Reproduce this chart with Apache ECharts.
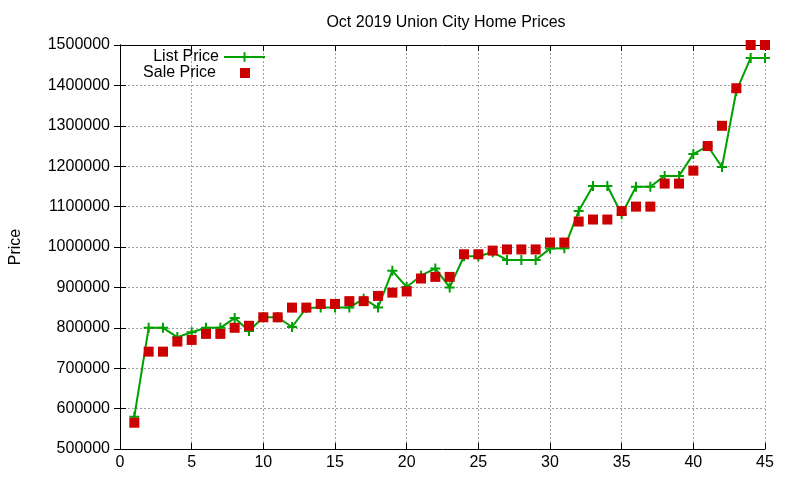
<!DOCTYPE html>
<html>
<head>
<meta charset="utf-8">
<script src="https://cdn.jsdelivr.net/npm/echarts@6/dist/echarts.min.js"></script>
<style>
  html, body { margin: 0; padding: 0; background: #fff; }
  #chart { width: 800px; height: 480px; }
</style>
</head>
<body>
<div id="chart"></div>
<script>
// home index (1..45) and prices
var homeIndex = [1, 2, 3, 4, 5, 6, 7, 8, 9, 10, 11, 12, 13, 14, 15, 16, 17, 18, 19, 20,
  21, 22, 23, 24, 25, 26, 27, 28, 29, 30, 31, 32, 33, 34, 35, 36, 37, 38, 39, 40,
  41, 42, 43, 44, 45]
var listPrice = [580000, 800000, 800000, 777000, 789000, 800000, 800000, 824000, 792000, 826000,
  826000, 802000, 849000, 850000, 850000, 850000, 872000, 850000, 941000, 901000,
  929000, 947000, 900000, 977000, 977000, 987000, 968000, 968000, 968000, 996000,
  997000, 1089000, 1151000, 1151000, 1081000, 1149000, 1149000, 1176000, 1176000, 1230000,
  1250000, 1198000, 1386000, 1468000, 1468000]
var salePrice = [565000, 741000, 741000, 766000, 770000, 785000, 785000, 800000, 805000, 826000,
  826000, 850000, 850000, 859000, 859000, 866000, 866000, 879000, 887000, 890000,
  922000, 926000, 926000, 982000, 982000, 991000, 994000, 994000, 994000, 1011000,
  1011000, 1063000, 1068000, 1068000, 1089000, 1100000, 1100000, 1157000, 1157000, 1189000,
  1250000, 1300000, 1393000, 1500000, 1500000]

var FONT = 'Liberation Sans'
var GREEN = '#00a000'
var RED = '#cc0000'
var crossIcon = 'path://M4,0H6V4H10V6H6V10H4V6H0V4H4Z'

function pairs(xs, ys) {
  return xs.map(function (x, i) { return [x, ys[i]] })
}

var gridLine = { show: true, lineStyle: { color: '#a0a0a0', type: [2, 2], width: 1 } }
var frameLine = { show: true, lineStyle: { color: '#000', width: 1 } }
var labelStyle = { color: '#000', fontFamily: FONT, fontSize: 16 }
var innerTick = { show: true, inside: true, length: 6, lineStyle: { color: '#000' } }

var chart = echarts.init(document.getElementById('chart'), null, { renderer: 'canvas' })
chart.setOption({
  animation: false,
  backgroundColor: '#fff',
  title: {
    text: 'Oct 2019 Union City Home Prices',
    left: 441, textAlign: 'center', top: 10,
    textStyle: { color: '#000', fontFamily: FONT, fontSize: 16, fontWeight: 'normal' }
  },
  legend: [{
    data: ['List Price'], orient: 'vertical', align: 'right',
    right: 534, top: 49, padding: 0,
    itemWidth: 41, itemHeight: 12,
    textStyle: labelStyle
  }, {
    data: ['Sale Price'], orient: 'vertical', align: 'right',
    right: 550, top: 65, padding: 0,
    itemWidth: 10, itemHeight: 10,
    textStyle: Object.assign({ padding: [0, 19, 0, 0] }, labelStyle)
  }],
  grid: { left: 118, right: 35, top: 45, bottom: 31, containLabel: false },
  xAxis: [{
    type: 'value', min: 0, max: 45, interval: 5,
    axisLine: frameLine, axisTick: innerTick,
    axisLabel: Object.assign({ margin: 6 }, labelStyle),
    splitLine: gridLine
  }, {
    type: 'value', position: 'top', min: 0, max: 45, interval: 5,
    axisLine: frameLine, axisTick: innerTick,
    axisLabel: { show: false }, splitLine: { show: false }
  }],
  yAxis: [{
    type: 'value', min: 500000, max: 1500000, interval: 100000,
    name: 'Price', nameLocation: 'middle', nameGap: 96, nameRotate: 90,
    nameTextStyle: labelStyle,
    axisLine: frameLine, axisTick: innerTick,
    axisLabel: Object.assign({ margin: 10, formatter: function (v) { return String(v) } }, labelStyle),
    splitLine: gridLine
  }, {
    type: 'value', position: 'right', min: 500000, max: 1500000, interval: 100000,
    axisLine: frameLine, axisTick: innerTick,
    axisLabel: { show: false }, splitLine: { show: false }
  }],
  series: [{
    name: 'List Price', type: 'line',
    data: pairs(homeIndex, listPrice),
    symbol: crossIcon, symbolSize: 10, showAllSymbol: true,
    lineStyle: { color: GREEN, width: 2 },
    itemStyle: { color: GREEN },
    z: 2
  }, {
    name: 'Sale Price', type: 'scatter',
    data: pairs(homeIndex, salePrice),
    symbol: 'rect', symbolSize: 10,
    itemStyle: { color: RED, opacity: 1 },
    z: 3
  }]
})
</script>
</body>
</html>
